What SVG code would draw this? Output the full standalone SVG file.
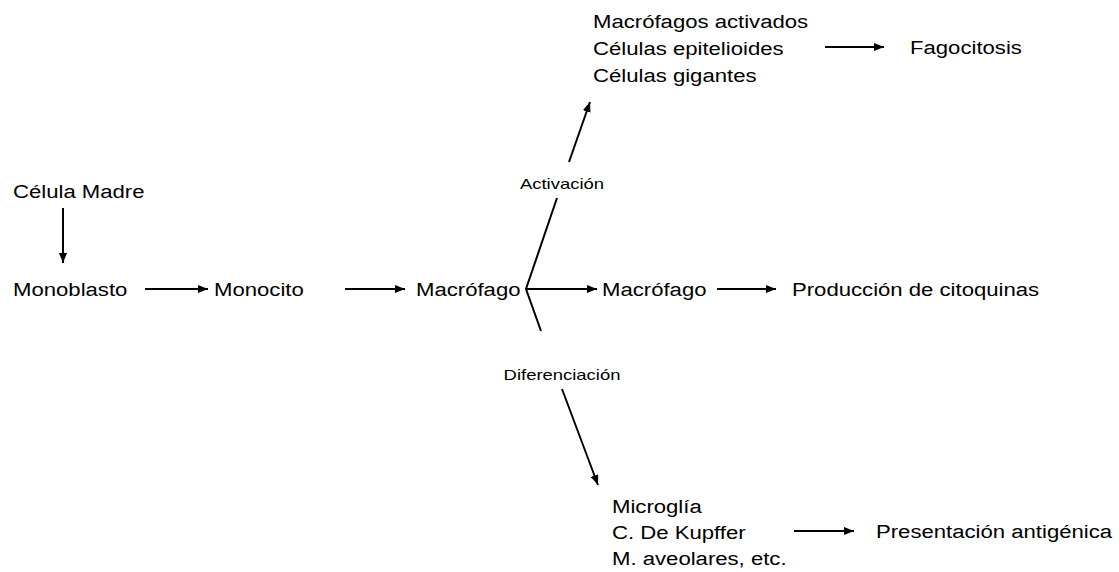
<svg xmlns="http://www.w3.org/2000/svg" width="1119" height="572" viewBox="0 0 1119 572">
<style>
text{font-family:"Liberation Sans",Arial,sans-serif;fill:#000}
.m{font-size:18px}
.s{font-size:15px}
.c{stroke:#000;stroke-width:2;fill:none}
</style>
<defs>
<marker id="ah" viewBox="0 0 10 8" refX="10" refY="4" markerWidth="10" markerHeight="8" markerUnits="userSpaceOnUse" orient="auto">
<path d="M0,0 L10,4 L0,8 z" fill="#000"/>
</marker>
</defs>
<rect width="1119" height="572" fill="#fff"/>
<g id="connectors">
<line class="c" x1="63" y1="208" x2="63" y2="263" marker-end="url(#ah)"/>
<line class="c" x1="145" y1="289" x2="208" y2="289" marker-end="url(#ah)"/>
<line class="c" x1="345" y1="289" x2="405" y2="289" marker-end="url(#ah)"/>
<line class="c" x1="527" y1="289" x2="597" y2="289" marker-end="url(#ah)"/>
<line class="c" x1="717" y1="289" x2="776" y2="289" marker-end="url(#ah)"/>
<line class="c" x1="825" y1="47" x2="884" y2="47" marker-end="url(#ah)"/>
<line class="c" x1="794" y1="531" x2="854" y2="531" marker-end="url(#ah)"/>
<polyline class="c" points="557,198 526,289 541,331"/>
<line class="c" x1="569" y1="162" x2="590" y2="102" marker-end="url(#ah)"/>
<line class="c" x1="562" y1="389" x2="598" y2="485" marker-end="url(#ah)"/>
<text class="s" transform="matrix(1.23 0 0 1 562 189)" text-anchor="middle">Activación</text>
<text class="s" transform="matrix(1.23 0 0 1 562 380)" text-anchor="middle">Diferenciación</text>
</g>
<g id="celula-madre"><text class="m" transform="matrix(1.23 0 0 1 13 198)">Célula Madre</text></g>
<g id="monoblasto"><text class="m" transform="matrix(1.23 0 0 1 13 296)">Monoblasto</text></g>
<g id="monocito"><text class="m" transform="matrix(1.23 0 0 1 214 296)">Monocito</text></g>
<g id="macrofago1"><text class="m" transform="matrix(1.23 0 0 1 416 296)">Macrófago</text></g>
<g id="macrofago2"><text class="m" transform="matrix(1.23 0 0 1 602 296)">Macrófago</text></g>
<g id="citoquinas"><text class="m" transform="matrix(1.23 0 0 1 792 296)">Producción de citoquinas</text></g>
<g id="activados">
<text class="m" transform="matrix(1.23 0 0 1 593 28)">Macrófagos activados</text>
<text class="m" transform="matrix(1.23 0 0 1 593 55)">Células epitelioides</text>
<text class="m" transform="matrix(1.23 0 0 1 593 82)">Células gigantes</text>
</g>
<g id="fagocitosis"><text class="m" transform="matrix(1.23 0 0 1 910 54)">Fagocitosis</text></g>
<g id="diferenciados">
<text class="m" transform="matrix(1.23 0 0 1 612 513)">Microglía</text>
<text class="m" transform="matrix(1.23 0 0 1 612 539)">C. De Kupffer</text>
<text class="m" transform="matrix(1.23 0 0 1 612 565)">M. aveolares, etc.</text>
</g>
<g id="presentacion"><text class="m" transform="matrix(1.23 0 0 1 876 538)">Presentación antigénica</text></g>
</svg>
